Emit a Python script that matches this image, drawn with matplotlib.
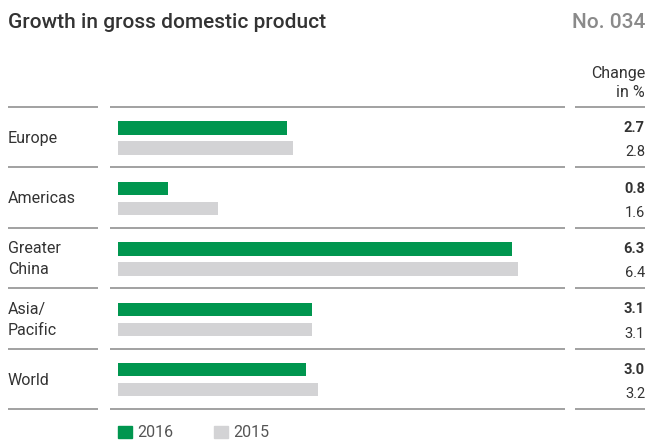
import matplotlib
matplotlib.use('Agg')
import matplotlib.pyplot as plt
import matplotlib.transforms as mtransforms
from matplotlib.patches import Rectangle

# data
regions = ['Europe', 'Americas', 'Greater\nChina', 'Asia/\nPacific', 'World']
growth_2016 = [2.7, 0.8, 6.3, 3.1, 3.0]
growth_2015 = [2.8, 1.6, 6.4, 3.1, 3.2]
labels_2016 = ['2.7', '0.8', '6.3', '3.1', '3.0']
labels_2015 = ['2.8', '1.6', '6.4', '3.1', '3.2']
years = ['2016', '2015']

GREEN = '#00964f'
GREY = '#d3d3d5'
LINE = '#9a9a9a'
TEXT = '#333333'
W, H = 653, 440

plt.rcParams['font.family'] = ['Roboto', 'DejaVu Sans']

fig = plt.figure(figsize=(W / 100, H / 100), dpi=100)

def fx(px):
    return px / W

def fy(px):
    return 1 - px / H

# bar area: x from 118 px to 565 px, rows between 107 px and 409 px
ax = fig.add_axes([fx(118), fy(409), fx(565) - fx(118), fy(107) - fy(409)])
ax.set_xlim(0, 447 / 62.5)
ax.set_ylim(len(regions), 0)
ax.axis('off')

rows = range(len(regions))
ax.barh([i + 0.35 for i in rows], growth_2016, height=0.22, color=GREEN, align='center')
ax.barh([i + 0.68 for i in rows], growth_2015, height=0.22, color=GREY, align='center')

trans = mtransforms.blended_transform_factory(fig.transFigure, ax.transData)

# separators
for i in range(len(regions) + 1):
    for x0, x1 in [(8, 98), (110, 565), (575, 645)]:
        ax.plot([fx(x0), fx(x1)], [i, i], transform=trans, color=LINE,
                lw=1.3, clip_on=False, solid_capstyle='butt')

for i, name in enumerate(regions):
    ax.text(fx(8), i + 0.52, name, transform=trans, ha='left', va='center',
            fontsize=11.5, color=TEXT, linespacing=1.5)
    ax.text(fx(645), i + 0.35, labels_2016[i], transform=trans, ha='right',
            va='center', fontsize=10.5, color=TEXT, fontweight='bold')
    ax.text(fx(645), i + 0.75, labels_2015[i], transform=trans, ha='right',
            va='center', fontsize=10.5, color=TEXT)

# header
fig.text(fx(8), fy(22), 'Growth in gross domestic product', ha='left', va='center',
         fontsize=15, fontweight='medium', color=TEXT)
fig.text(fx(645), fy(22), 'No. 034', ha='right', va='center',
         fontsize=15, fontweight='medium', color='#8a8a8a')
fig.text(fx(645), fy(83), 'Change\nin %', ha='right', va='center',
         fontsize=11.5, color=TEXT, linespacing=1.35)

# legend
for x0, color, yr in [(118, GREEN, years[0]), (214, GREY, years[1])]:
    fig.patches.append(Rectangle((fx(x0), fy(438)), fx(14), 12 / H,
                                 transform=fig.transFigure, color=color))
    fig.text(fx(x0 + 19), fy(432), yr, ha='left', va='center',
             fontsize=11.5, color='#555555')

fig.savefig('out.png', dpi=100)
